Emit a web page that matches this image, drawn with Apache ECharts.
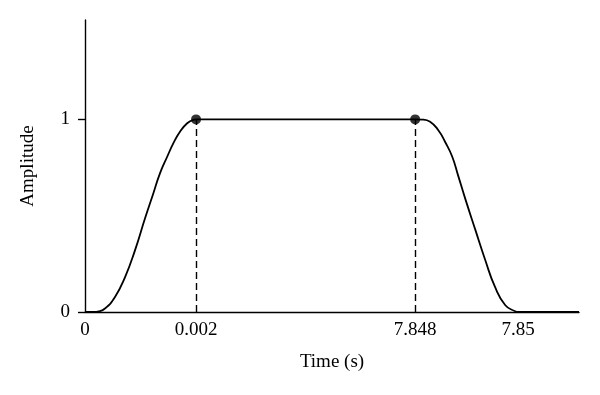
<!DOCTYPE html>
<html><head><meta charset="utf-8">
<script src="https://cdn.jsdelivr.net/npm/echarts@6/dist/echarts.min.js"></script>
<style>html,body{margin:0;padding:0;background:#fff}#c{width:600px;height:395px}</style>
</head><body><div id="c"></div>
<script>
// ---- data (time in seconds, amplitude normalised) ----
const tickTimes  = [0, 0.002, 7.848, 7.85];
const tickLabels = ['0', '0.002', '7.848', '7.85'];
const yTicks     = [0, 1];

const riseTime = [0, 0.00018, 0.00023, 0.00036, 0.00054, 0.00072, 0.0009, 0.00108, 0.00123, 0.00135, 0.00148, 0.00159, 0.00171, 0.00184, 0.00195, 0.002];
const riseAmp  = [0, 0,       0.002,   0.018,   0.078,   0.18,    0.32,   0.485,   0.615,   0.72,    0.806,   0.875,   0.936,   0.98,    0.998,   1.0];

const plateauTime = [0.002, 7.848];
const plateauAmp  = [1, 1];

const fallTime = [7.848, 7.84814, 7.84829, 7.84845, 7.84858, 7.84872, 7.84883, 7.84897, 7.84917, 7.84936, 7.84955, 7.84975, 7.84994, 7.85, 7.85118];
const fallAmp  = [1,     0.999,   0.988,   0.944,   0.884,   0.806,   0.712,   0.59,    0.425,   0.27,    0.13,    0.035,   0.004,   0,    0];

const markerTime = [0.002, 7.848];
const markerAmp  = [1, 1];

const axisEndTime = 7.85118;

// ---- schematic (broken) time axis: each labelled interval gets its own width ----
const segWidth = [111, 219, 103];
const tickPos = [0];
segWidth.forEach(w => tickPos.push(tickPos[tickPos.length - 1] + w));
function toAxis(t) {
  let i = 0;
  while (i < tickTimes.length - 2 && t > tickTimes[i + 1]) i++;
  return tickPos[i] + (t - tickTimes[i]) / (tickTimes[i + 1] - tickTimes[i]) * segWidth[i];
}
function pairs(ts, as) { return ts.map((t, k) => [toAxis(t), as[k]]); }

const curve = pairs(riseTime, riseAmp)
  .concat(pairs(plateauTime, plateauAmp).slice(1))
  .concat(pairs(fallTime, fallAmp).slice(1));
const markers = pairs(markerTime, markerAmp);

const font = 'Liberation Serif';
const ink = '#000';

const chart = echarts.init(document.getElementById('c'), null, { renderer: 'canvas' });
chart.setOption({
  animation: false,
  backgroundColor: '#fff',
  grid: { left: 85, right: 21, top: 20, bottom: 83, containLabel: false, outerBoundsMode: 'none' },
  xAxis: {
    type: 'value', min: 0, max: toAxis(axisEndTime),
    name: 'Time (s)', nameLocation: 'middle', nameGap: 41,
    nameTextStyle: { fontFamily: font, fontSize: 19, color: ink },
    axisLine: { show: true, onZero: false, lineStyle: { color: ink, width: 1.4 } },
    axisTick: { show: false },
    splitLine: { show: false },
    axisLabel: {
      customValues: tickPos, margin: 9, fontFamily: font, fontSize: 19, color: ink,
      formatter: v => { const i = tickPos.findIndex(p => Math.abs(p - v) < 0.5); return i >= 0 ? tickLabels[i] : ''; }
    }
  },
  yAxis: {
    type: 'value', min: 0, max: 1.516,
    name: 'Amplitude', nameLocation: 'middle', nameGap: 47,
    nameTextStyle: { fontFamily: font, fontSize: 19, color: ink },
    axisLine: { show: true, lineStyle: { color: ink, width: 1.4 } },
    axisTick: { show: true, customValues: yTicks, length: 7, lineStyle: { color: ink, width: 1.4 } },
    splitLine: { show: false },
    axisLabel: { customValues: yTicks, margin: 15, fontFamily: font, fontSize: 19, color: ink }
  },
  series: [
    {
      type: 'line', data: curve, symbol: 'none', smooth: 0.5,
      lineStyle: { color: ink, width: 1.8 }, z: 3,
      markLine: {
        silent: true, symbol: 'none', label: { show: false },
        lineStyle: { color: ink, width: 1.4, type: [7, 4] },
        data: markers.map(p => [{ coord: [p[0], 0] }, { coord: [p[0], p[1]] }])
      }
    },
    {
      type: 'scatter', data: markers, symbol: 'circle', symbolSize: 10,
      itemStyle: { color: ink }, z: 4
    }
  ]
});
</script>
</body></html>
